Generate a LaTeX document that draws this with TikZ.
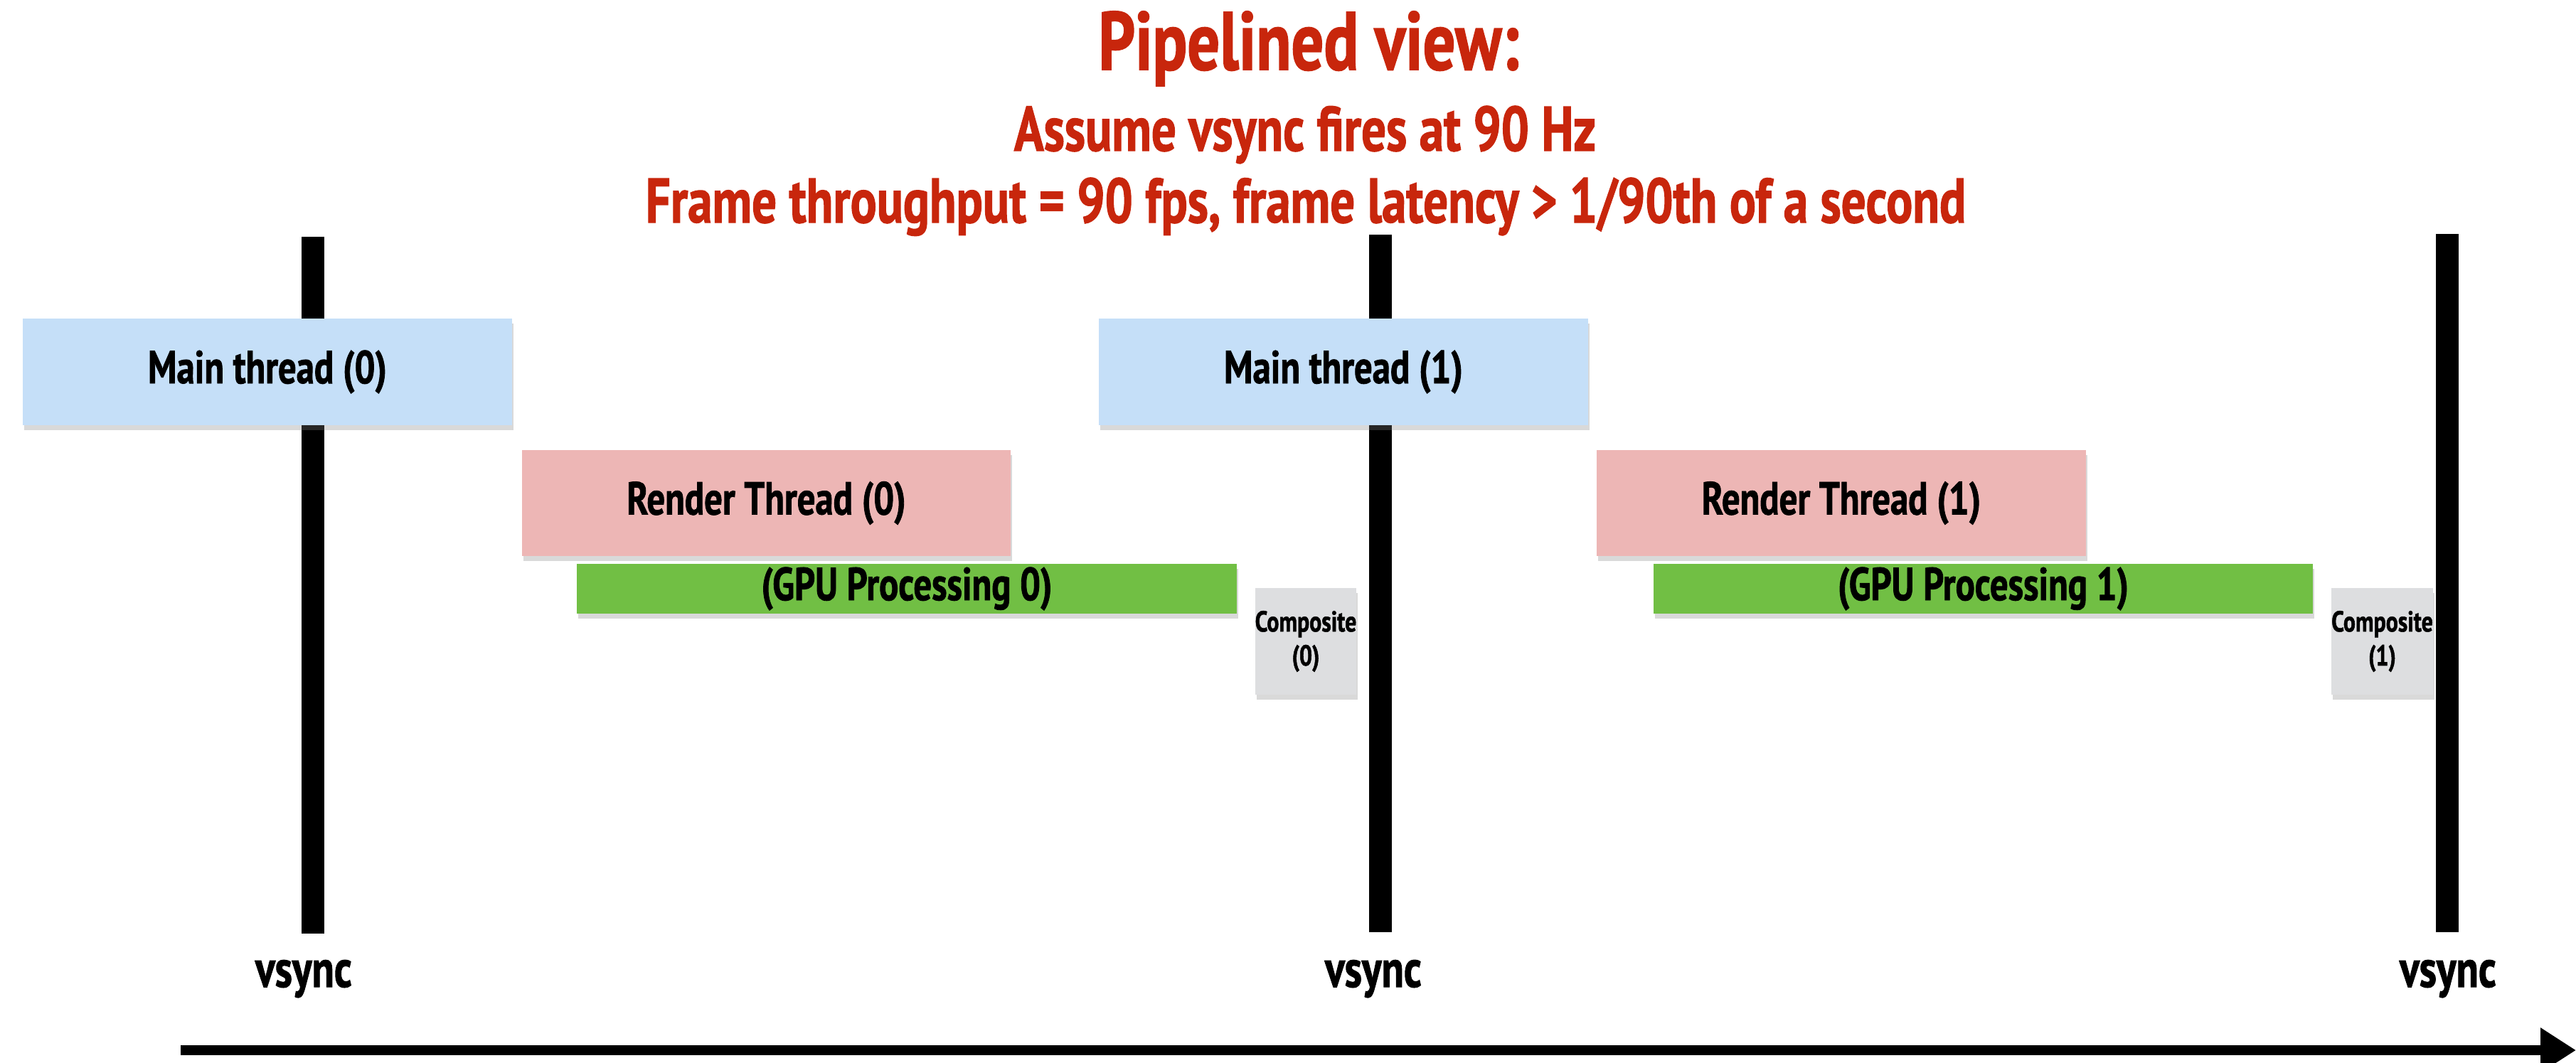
\documentclass[tikz,border=0pt]{standalone}
\usepackage{fontspec}
\setmainfont{PT Sans}[FakeStretch=0.78,BoldFeatures={FakeBold=1.3}]
\usetikzlibrary{shadows,arrows.meta}
\definecolor{titlered}{RGB}{200,38,12}
\definecolor{mainblue}{RGB}{197,223,248}
\definecolor{renderpink}{RGB}{237,182,181}
\definecolor{gpugreen}{RGB}{113,191,68}
\definecolor{compgray}{RGB}{221,222,224}
\begin{document}
\begin{tikzpicture}[every node/.style={font=\bfseries}]
\tikzset{task/.style={inner sep=0pt,align=center,drop shadow={shadow xshift=0.6pt,shadow yshift=-2pt,opacity=0.3}},
  vline/.style={line width=9pt},
  vlabel/.style={font=\bfseries\fontsize{21}{24}\selectfont,anchor=base},
  timeline/.style={line width=4pt,-{Triangle[length=0.5cm,width=0.6cm]}}}
\useasboundingbox (0,0) rectangle (36.22,-14.95);
% title
\node[titlered,font=\bfseries\fontsize{33}{38}\selectfont,anchor=base] (title) at (18.40,-0.98) {Pipelined view:};
\node[titlered,font=\bfseries\fontsize{25.2}{29}\selectfont,anchor=base] (sub1) at (18.35,-2.12) {Assume vsync fires at 90 Hz};
\node[titlered,font=\bfseries\fontsize{25.2}{29}\selectfont,anchor=base] (sub2) at (18.36,-3.13) {Frame throughput = 90 fps, frame latency > 1/90th of a second};
% vsync markers
\coordinate (v0top) at (4.40,-3.33); \coordinate (v0bot) at (4.40,-13.13);
\coordinate (v1top) at (19.41,-3.30); \coordinate (v1bot) at (19.41,-13.11);
\coordinate (v2top) at (34.41,-3.29); \coordinate (v2bot) at (34.41,-13.11);
\draw[vline] (v0top) -- (v0bot);
\draw[vline] (v1top) -- (v1bot);
\draw[vline] (v2top) -- (v2bot);
\node[vlabel] (vs0) at (4.27,-13.88) {vsync};
\node[vlabel] (vs1) at (19.31,-13.88) {vsync};
\node[vlabel] (vs2) at (34.42,-13.88) {vsync};
% frame 0
\node[task,fill=mainblue,minimum width=6.88cm,minimum height=1.50cm,font=\bfseries\fontsize{18.5}{21}\selectfont] (main0) at (3.76,-5.23) {Main thread (0)};
\node[task,fill=renderpink,minimum width=6.87cm,minimum height=1.49cm,font=\bfseries\fontsize{18.5}{21}\selectfont] (render0) at (10.775,-7.075) {Render Thread (0)};
\node[task,fill=gpugreen,minimum width=9.28cm,minimum height=0.70cm,font=\bfseries\fontsize{18.5}{21}\selectfont] (gpu0) at (12.75,-8.28) {(GPU Processing 0)};
\node[task,fill=compgray,minimum width=1.40cm,minimum height=1.50cm,font=\bfseries\fontsize{11.6}{13.6}\selectfont] (comp0) at (18.36,-9.02) {Composite\\(0)};
% frame 1
\node[task,fill=mainblue,minimum width=6.88cm,minimum height=1.50cm,font=\bfseries\fontsize{18.5}{21}\selectfont] (main1) at (18.89,-5.23) {Main thread (1)};
\node[task,fill=renderpink,minimum width=6.88cm,minimum height=1.49cm,font=\bfseries\fontsize{18.5}{21}\selectfont] (render1) at (25.89,-7.075) {Render Thread (1)};
\node[task,fill=gpugreen,minimum width=9.27cm,minimum height=0.70cm,font=\bfseries\fontsize{18.5}{21}\selectfont] (gpu1) at (27.885,-8.28) {(GPU Processing 1)};
\node[task,fill=compgray,minimum width=1.39cm,minimum height=1.50cm,font=\bfseries\fontsize{11.6}{13.6}\selectfont] (comp1) at (33.495,-9.02) {Composite\\(1)};
% time axis
\coordinate (tstart) at (2.54,-14.77);
\coordinate (tend) at (36.22,-14.77);
\draw[timeline] (tstart) -- (tend);
\end{tikzpicture}
\end{document}
